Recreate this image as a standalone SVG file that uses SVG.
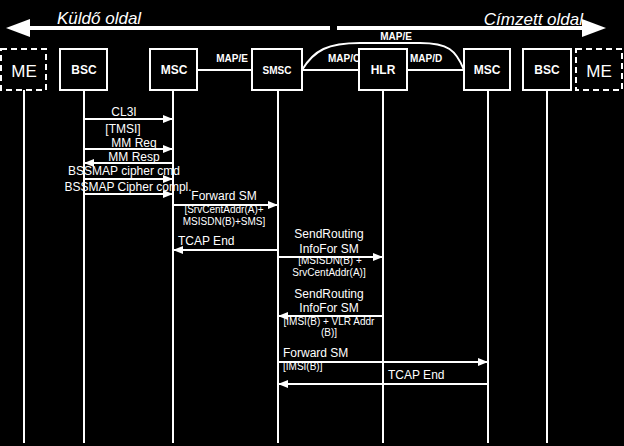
<svg xmlns="http://www.w3.org/2000/svg" width="624" height="446" viewBox="0 0 624 446">
<style>
.box{fill:#000;stroke:#fff;stroke-width:2}
.dbox{fill:#000;stroke:#fff;stroke-width:2;stroke-dasharray:6 4}
.life{stroke:#fff;stroke-width:2;fill:none}
.ln{stroke:#fff;stroke-width:2;fill:none}
.msg{stroke:#fff;stroke-width:2;fill:none}
.nl{font-family:"Liberation Sans",Arial,sans-serif;font-weight:bold;font-size:12px;fill:#fff;text-anchor:middle}
.me{font-family:"Liberation Sans",Arial,sans-serif;font-size:17px;fill:#fff;text-anchor:middle}
.t{font-family:"Liberation Sans",Arial,sans-serif;font-size:12px;fill:#fff}
.s{font-family:"Liberation Sans",Arial,sans-serif;font-size:10px;fill:#fff}
.c{text-anchor:middle}
.pl{font-family:"Liberation Sans",Arial,sans-serif;font-weight:bold;font-size:10px;fill:#fff}
.side{font-family:"Liberation Sans",Arial,sans-serif;font-style:italic;font-size:17px;fill:#fff}
</style>
<defs>
<marker id="ah" markerWidth="10" markerHeight="8" refX="10" refY="4" orient="auto" markerUnits="userSpaceOnUse">
<path d="M0,0 L10,4 L0,8 Z" fill="#fff"/>
</marker>
</defs>
<rect x="0" y="0" width="624" height="446" fill="#000"/>

<g id="sides">
<line x1="330" y1="28" x2="28" y2="28" stroke="#fff" stroke-width="4"/>
<path d="M6,28 L30,19 L30,37 Z" fill="#fff"/>
<text class="side" x="57" y="24">Küldő oldal</text>
<line x1="337" y1="28" x2="584" y2="28" stroke="#fff" stroke-width="4"/>
<path d="M606,28 L582,19 L582,37 Z" fill="#fff"/>
<text class="side" x="583" y="25" text-anchor="end">Címzett oldal</text>
</g>

<g id="links">
<line class="ln" x1="197" y1="70" x2="252" y2="70"/>
<line class="ln" x1="302" y1="70" x2="359" y2="70"/>
<line class="ln" x1="407" y1="70" x2="464" y2="70"/>
<path class="ln" d="M302,70 C314,50 328,43 360,43 L420,43 C448,43 456,50 464,70"/>
<text class="pl" x="232" y="62" text-anchor="middle">MAP/E</text>
<text class="pl" x="396" y="40" text-anchor="middle">MAP/E</text>
<text class="pl" x="328" y="62">MAP/C</text>
<text class="pl" x="410" y="62">MAP/D</text>
</g>

<g id="lifelines">
<line class="life" x1="24" y1="90" x2="24" y2="443"/>
<line class="life" x1="84" y1="90" x2="84" y2="443"/>
<line class="life" x1="173" y1="90" x2="173" y2="443"/>
<line class="life" x1="278" y1="90" x2="278" y2="443"/>
<line class="life" x1="383" y1="90" x2="383" y2="443"/>
<line class="life" x1="488" y1="90" x2="488" y2="443"/>
<line class="life" x1="547" y1="90" x2="547" y2="443"/>
</g>

<g id="ME1"><rect class="dbox" x="1" y="49" width="45" height="41"/><text class="me" x="24" y="77">ME</text></g>
<g id="BSC1"><rect class="box" x="60" y="49" width="47" height="41"/><text class="nl" x="84" y="74">BSC</text></g>
<g id="MSC1"><rect class="box" x="150" y="49" width="47" height="41"/><text class="nl" x="174" y="74">MSC</text></g>
<g id="SMSC"><rect class="box" x="252" y="49" width="50" height="41"/><text class="nl" x="277" y="74" style="font-size:10px">SMSC</text></g>
<g id="HLR"><rect class="box" x="359" y="49" width="48" height="41"/><text class="nl" x="383" y="74">HLR</text></g>
<g id="MSC2"><rect class="box" x="464" y="49" width="46" height="41"/><text class="nl" x="487" y="74">MSC</text></g>
<g id="BSC2"><rect class="box" x="523" y="49" width="48" height="41"/><text class="nl" x="547" y="74">BSC</text></g>
<g id="ME2"><rect class="dbox" x="576" y="49" width="46" height="41"/><text class="me" x="599" y="77">ME</text></g>

<g id="connectors">
<line class="msg" x1="84" y1="119" x2="173" y2="119" marker-end="url(#ah)"/>
<line class="msg" x1="84" y1="149" x2="173" y2="149" marker-end="url(#ah)"/>
<line class="msg" x1="173" y1="163" x2="84" y2="163" marker-end="url(#ah)"/>
<line class="msg" x1="84" y1="179" x2="173" y2="179" marker-end="url(#ah)"/>
<line class="msg" x1="84" y1="194" x2="173" y2="194" marker-end="url(#ah)"/>
<line class="msg" x1="173" y1="205" x2="278" y2="205" marker-end="url(#ah)"/>
<line class="msg" x1="278" y1="250" x2="173" y2="250" marker-end="url(#ah)"/>
<line class="msg" x1="278" y1="257" x2="383" y2="257" marker-end="url(#ah)"/>
<line class="msg" x1="383" y1="316" x2="278" y2="316" marker-end="url(#ah)"/>
<line class="msg" x1="278" y1="362" x2="488" y2="362" marker-end="url(#ah)"/>
<line class="msg" x1="488" y1="384" x2="278" y2="384" marker-end="url(#ah)"/>
</g>

<g id="labels">
<text class="t c" x="124" y="116">CL3I</text>
<text class="t c" x="123" y="133">[TMSI]</text>
<text class="t c" x="134" y="147">MM Req</text>
<text class="t c" x="134" y="161">MM Resp</text>
<text class="t c" x="124" y="175">BSSMAP cipher cmd</text>
<text class="t c" x="128" y="191">BSSMAP Cipher compl.</text>
<text class="t c" x="224" y="200">Forward SM</text>
<text class="s c" x="224" y="213">[SrvCentAddr(A)+</text>
<text class="s c" x="224" y="225">MSISDN(B)+SMS]</text>
<text class="t" x="178" y="245">TCAP End</text>
<text class="t c" x="329" y="238">SendRouting</text>
<text class="t c" x="329" y="253">InfoFor SM</text>
<text class="s c" x="330" y="264">[MSISDN(B) +</text>
<text class="s c" x="329" y="276">SrvCentAddr(A)]</text>
<text class="t c" x="329" y="298">SendRouting</text>
<text class="t c" x="329" y="312">InfoFor SM</text>
<text class="s c" x="329" y="325">[IMSI(B) + VLR Addr</text>
<text class="s c" x="329" y="336">(B)]</text>
<text class="t" x="283" y="357">Forward SM</text>
<text class="s" x="283" y="370">[IMSI(B)]</text>
<text class="t" x="388" y="379">TCAP End</text>
</g>
</svg>
